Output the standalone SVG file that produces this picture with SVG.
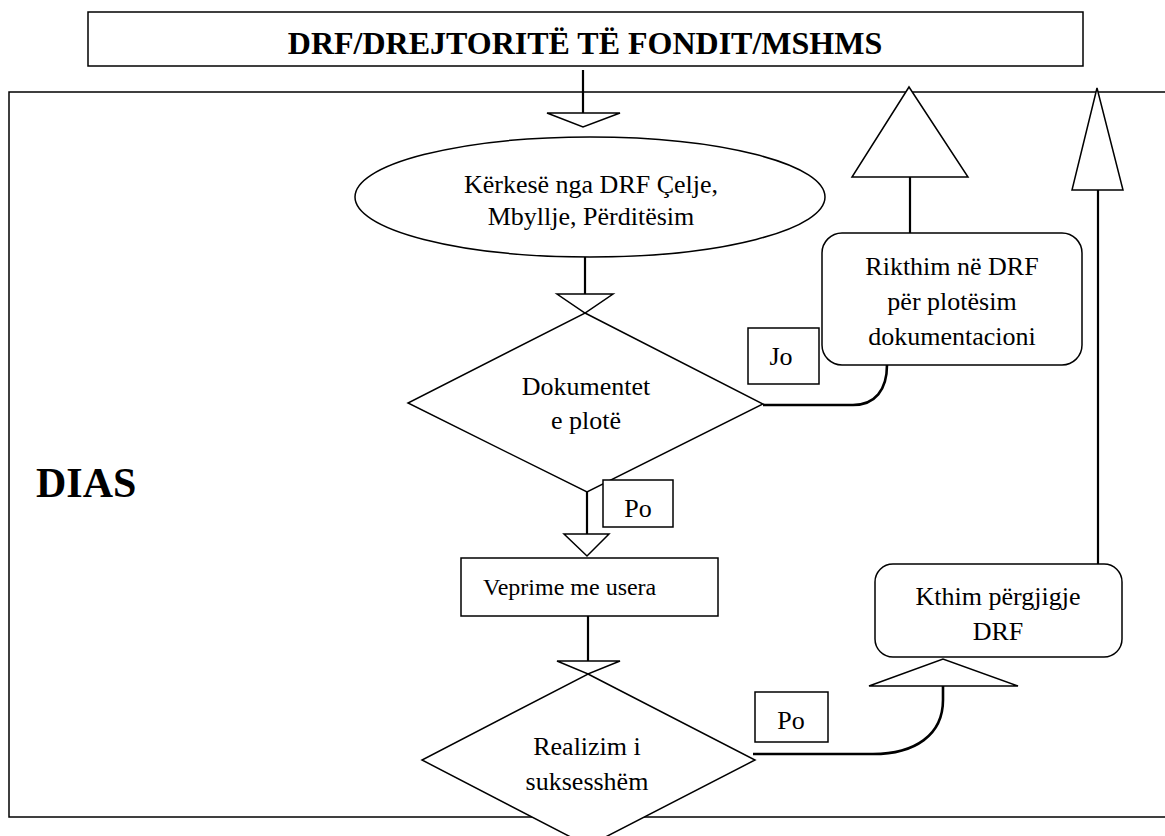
<svg xmlns="http://www.w3.org/2000/svg" width="1165" height="836" viewBox="0 0 1165 836">
<style>
.sh{fill:#fff;stroke:#000;stroke-width:1.5}
.ln{fill:none;stroke:#000;stroke-width:2.2}
.ah{fill:#fff;stroke:#000;stroke-width:1.5;stroke-linejoin:miter}
text{font-family:'Liberation Serif','Times New Roman','DejaVu Serif',serif;fill:#000}
.t{font-size:26px;text-anchor:middle}
.b{font-weight:bold}
</style>
<rect width="1165" height="836" fill="#fff"/>
<rect id="dias-frame" x="9" y="92" width="1170" height="725" fill="none" stroke="#000" stroke-width="1.5"/>
<g id="dias-label"><text class="b" x="36" y="497" style="font-size:42px">DIAS</text></g>
<g id="title">
<rect class="sh" x="88" y="12" width="995" height="54"/>
<text class="b" x="585" y="54" style="font-size:32px;text-anchor:middle">DRF/DREJTORITË TË FONDIT/MSHMS</text>
</g>
<g id="connectors">
<line class="ln" x1="583" y1="70" x2="583" y2="113"/>
<polygon class="ah" points="547,113 620,113 583,127"/>
<line class="ln" x1="585" y1="257" x2="585" y2="294"/>
<polygon class="ah" points="557,294 613,294 585,313"/>
<line class="ln" x1="587" y1="492" x2="587" y2="534"/>
<polygon class="ah" points="564,534 609,534 587,556"/>
<line class="ln" x1="588" y1="616" x2="588" y2="661"/>
<polygon class="ah" points="557,661 620,661 588,674"/>
<path class="ln" d="M763,405 H853 C875,405 887,390 887,365" style="stroke-width:2.6"/>
<line class="ln" x1="910" y1="177" x2="910" y2="233"/>
<polygon class="ah" points="852,177 968,177 909,87"/>
<path class="ln" d="M753,754 H873 C915,754 943,735 943,700 V686" style="stroke-width:2.6"/>
<polygon class="ah" points="869,686 1018,686 943,659"/>
<line class="ln" x1="1098" y1="190" x2="1098" y2="564"/>
<polygon class="ah" points="1072,190 1123,190 1097,88"/>
</g>
<g id="kerkese">
<ellipse class="sh" cx="590" cy="197" rx="235" ry="60"/>
<text class="t" x="591" y="193">Kërkesë nga DRF Çelje,</text>
<text class="t" x="591" y="225">Mbyllje, Përditësim</text>
</g>
<g id="dokumentet">
<polygon class="sh" points="585,313 763,404 587,492 408,403"/>
<text class="t" x="586" y="395">Dokumentet</text>
<text class="t" x="586" y="429">e plotë</text>
</g>
<g id="jo">
<rect class="sh" x="748" y="328" width="71" height="56"/>
<text class="t" x="781" y="365">Jo</text>
</g>
<g id="rikthim">
<rect class="sh" x="822" y="233" width="260" height="132" rx="20"/>
<text class="t" x="952" y="275">Rikthim në DRF</text>
<text class="t" x="952" y="310">për plotësim</text>
<text class="t" x="952" y="345">dokumentacioni</text>
</g>
<g id="po1">
<rect class="sh" x="603" y="480" width="70" height="47"/>
<text class="t" x="638" y="517">Po</text>
</g>
<g id="veprime">
<rect class="sh" x="461" y="558" width="257" height="58"/>
<text x="483" y="595" style="font-size:24px;text-anchor:start">Veprime me usera</text>
</g>
<g id="realizim">
<polygon class="sh" points="588,674 755,760 588,846 422,760"/>
<text class="t" x="587" y="755">Realizim i</text>
<text class="t" x="587" y="790">suksesshëm</text>
</g>
<g id="po2">
<rect class="sh" x="755" y="692" width="73" height="50"/>
<text class="t" x="791" y="729">Po</text>
</g>
<g id="kthim">
<rect class="sh" x="875" y="564" width="247" height="93" rx="18"/>
<text class="t" x="998" y="605">Kthim përgjigje</text>
<text class="t" x="998" y="640">DRF</text>
</g>
</svg>
